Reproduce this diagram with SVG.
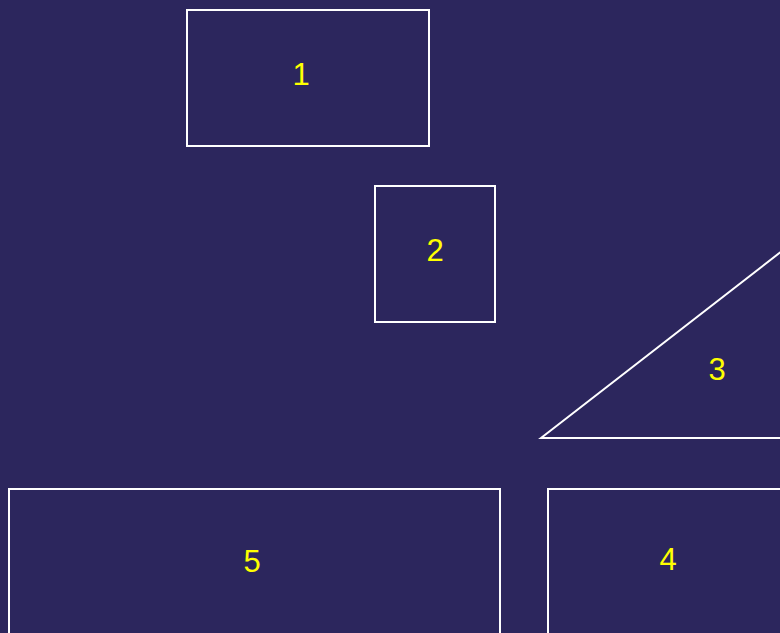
<svg xmlns="http://www.w3.org/2000/svg" width="780" height="633" viewBox="0 0 780 633">
<style>
.s{fill:none;stroke:#ffffff;stroke-width:2}
.t{fill:#ffff00;font-family:"Liberation Sans",Arial,sans-serif;font-size:31px;text-anchor:middle}
</style>
<rect x="0" y="0" width="780" height="633" fill="#2c265d"/>
<g id="node1"><rect class="s" x="187" y="10" width="242" height="136"/><text class="t" x="301" y="85">1</text></g>
<g id="node2"><rect class="s" x="375" y="186" width="120" height="136"/><text class="t" x="435" y="261">2</text></g>
<g id="node3"><polygon class="s" points="541,438 858,192 858,438"/><text class="t" x="717" y="380">3</text></g>
<g id="node4"><rect class="s" x="548" y="489" width="300" height="200"/><text class="t" x="668" y="570">4</text></g>
<g id="node5"><rect class="s" x="9" y="489" width="491" height="200"/><text class="t" x="252" y="572">5</text></g>
<g id="connectors"></g>
</svg>
